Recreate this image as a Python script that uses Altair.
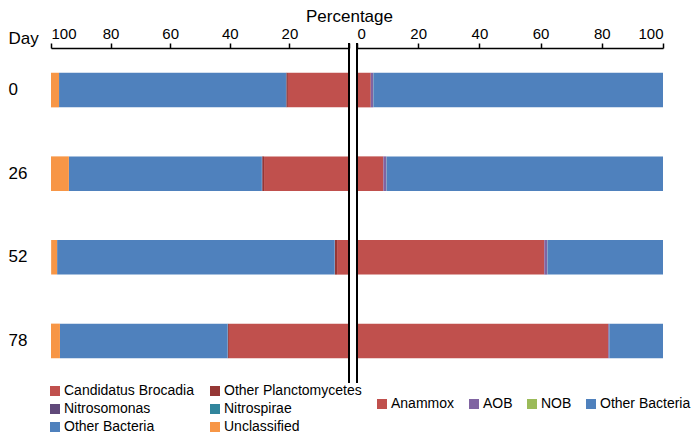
import altair as alt
import pandas as pd

FONT = "Liberation Sans"

days = ["0", "26", "52", "78"]

left_groups = ["Candidatus Brocadia", "Other Planctomycetes", "Nitrosomonas",
               "Nitrospirae", "Other Bacteria", "Unclassified"]
left_colors = ["#C0504D", "#953735", "#60497A", "#31859C", "#4F81BD", "#F79646"]
cand_brocadia = [20.5, 28.5, 4.0, 40.3]
other_plancto = [0.5, 0.6, 0.7, 0.3]
nitrosomonas = [0.1, 0.1, 0.1, 0.1]
nitrospirae = [0.05, 0.05, 0.05, 0.05]
other_bact_left = [76.15, 64.75, 93.1, 56.25]
unclassified = [2.7, 6.0, 2.0, 3.0]

right_groups = ["Anammox", "AOB", "NOB", "Other Bacteria"]
right_colors = ["#C0504D", "#8064A2", "#9BBB59", "#4F81BD"]
anammox = [4.5, 8.6, 61.2, 82.1]
aob = [0.8, 1.0, 1.0, 0.3]
nob = [0.05, 0.05, 0.05, 0.05]
other_bact_right = [94.65, 90.35, 37.75, 17.55]

left_series = [cand_brocadia, other_plancto, nitrosomonas, nitrospirae,
               other_bact_left, unclassified]
right_series = [anammox, aob, nob, other_bact_right]

left_rows = []
for k, (g, vals) in enumerate(zip(left_groups, left_series)):
    for d, v in zip(days, vals):
        left_rows.append({"Day": d, "Group": g, "Value": v, "ord": k})
left_df = pd.DataFrame(left_rows)

right_rows = []
for k, (g, vals) in enumerate(zip(right_groups, right_series)):
    for d, v in zip(days, vals):
        right_rows.append({"Day": d, "Group": g, "Value": v, "ord": k})
right_df = pd.DataFrame(right_rows)

W_L, W_R, H = 298, 306, 335

yscale = alt.Scale(domain=days, paddingInner=0.586, paddingOuter=0.296)

x_axis_common = dict(
    orient="top", title=None, values=[0, 20, 40, 60, 80, 100],
    labelFont=FONT, labelFontSize=15, labelColor="black", labelPadding=2,
    tickSize=5, tickColor="black", tickWidth=1.5,
    domainColor="black", domainWidth=1.5, grid=False,
)

legend_common = dict(
    orient="none", title=None, symbolType="square", symbolSize=100,
    symbolStrokeWidth=0, labelFont=FONT, labelFontSize=14,
    labelColor="black", labelOffset=2, rowPadding=4, padding=0,
    direction="horizontal", labelLimit=300,
)

left_bars = alt.Chart(left_df).mark_bar().encode(
    y=alt.Y("Day:N", scale=yscale, sort=days,
            axis=alt.Axis(title="Day", titleAngle=0, titleX=-43, titleY=-5,
                          titleAlign="left", titleBaseline="alphabetic",
                          titleFont=FONT, titleFontSize=17,
                          titleFontWeight="normal", titleColor="black",
                          labelAlign="left", labelPadding=43, tickSize=0,
                          ticks=False, domain=False, labelFont=FONT,
                          labelFontSize=17, labelColor="black")),
    x=alt.X("Value:Q", stack="zero",
            scale=alt.Scale(domain=[0, 100], reverse=True),
            axis=alt.Axis(labelExpr="datum.value == 0 ? '' : datum.label",
                          **x_axis_common)),
    color=alt.Color("Group:N",
                    scale=alt.Scale(domain=left_groups, range=left_colors),
                    legend=alt.Legend(columns=2, columnPadding=14,
                                      legendX=-3, legendY=H + 1,
                                      **legend_common)),
    order=alt.Order("ord:Q"),
)

left_rule = alt.Chart(pd.DataFrame({"v": [0]})).mark_rule(
    color="black", strokeWidth=2).encode(
    x=alt.datum(0), y=alt.value(-5), y2=alt.value(H))

left = alt.layer(left_bars, left_rule).properties(width=W_L, height=H)

right_bars = alt.Chart(right_df).mark_bar().encode(
    y=alt.Y("Day:N", scale=yscale, sort=days, axis=None),
    x=alt.X("Value:Q", stack="zero", scale=alt.Scale(domain=[0, 100]),
            axis=alt.Axis(**x_axis_common)),
    color=alt.Color("Group:N",
                    scale=alt.Scale(domain=right_groups, range=right_colors),
                    legend=alt.Legend(columns=4, columnPadding=12,
                                      legendX=18, legendY=H + 14,
                                      **legend_common)),
    order=alt.Order("ord:Q"),
)

right_rule = alt.Chart(pd.DataFrame({"v": [0]})).mark_rule(
    color="black", strokeWidth=2).encode(
    x=alt.datum(0), y=alt.value(-5), y2=alt.value(H))

right = alt.layer(right_bars, right_rule).properties(width=W_R, height=H)

chart = alt.hconcat(left, right, spacing=8, bounds="flush").resolve_scale(
    color="independent", x="independent"
).properties(
    title=alt.TitleParams("Percentage", font=FONT, fontSize=17,
                          fontWeight="normal", color="black",
                          anchor="middle", dx=0, offset=0),
    padding=0,
).configure(background="white").configure_view(stroke=None)

chart.save("out.html", embed_options={"renderer": "svg", "actions": False})
